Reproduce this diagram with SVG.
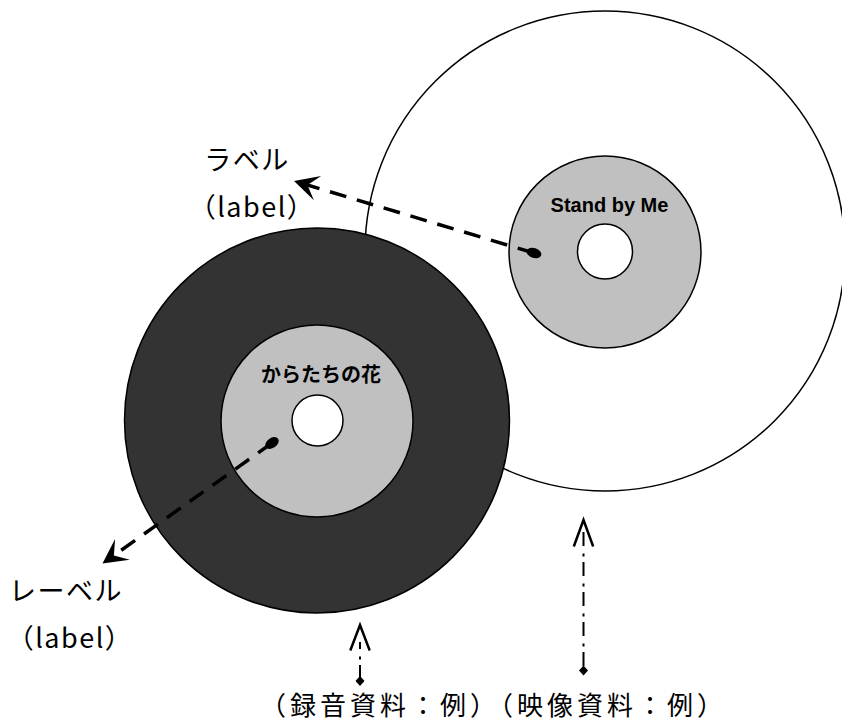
<svg xmlns="http://www.w3.org/2000/svg" width="842" height="722" viewBox="0 0 842 722">
<style>
.disc{stroke:#000;stroke-width:1.5}
.white{fill:#fff}
.black{fill:#333333}
.lbl{fill:#c0c0c0}
.jp{font-family:"Noto Sans CJK JP","Noto Sans",sans-serif;fill:#000}
.cap{font-size:27px;letter-spacing:1.5px}
.cjkbold{font-family:"Noto Sans CJK JP",sans-serif;font-weight:bold;font-size:20px;fill:#000}
.enbold{font-family:"Liberation Sans",Arial,sans-serif;font-weight:bold;font-size:20px;fill:#000}
.dash{fill:none;stroke:#000;stroke-width:3.5;stroke-dasharray:17 11}
.dd{fill:none;stroke:#000;stroke-width:2;stroke-dasharray:14 5.5 3 7.5}
.vhead{fill:none;stroke:#000;stroke-width:2.5;stroke-linejoin:miter;stroke-linecap:butt}
</style>
<defs>
<marker id="stealth" markerUnits="userSpaceOnUse" viewBox="-20 -15 30 30" markerWidth="30" markerHeight="30" refX="0" refY="0" orient="auto" overflow="visible">
<path d="M8,0 L-16.5,-12.7 L-6,0 L-16.5,12.7 Z" fill="#000"/>
</marker>
<marker id="blob" markerUnits="userSpaceOnUse" viewBox="-10 -10 20 20" markerWidth="20" markerHeight="20" refX="0" refY="0" orient="auto" overflow="visible">
<ellipse cx="0" cy="0" rx="7.5" ry="5" fill="#000"/>
</marker>
<marker id="diamond" markerUnits="userSpaceOnUse" viewBox="-6 -6 12 12" markerWidth="12" markerHeight="12" refX="0" refY="0" overflow="visible">
<path d="M0,-5 L4.5,0 L0,5 L-4.5,0 Z" fill="#000"/>
</marker>
</defs>

<g id="video-disc">
<circle class="disc white" cx="605" cy="251" r="240"/>
<circle class="disc lbl" cx="605" cy="252" r="96"/>
<circle class="disc white" cx="605" cy="251.5" r="27.5"/>
<text class="enbold" x="609.5" y="212" text-anchor="middle">Stand by Me</text>
</g>

<g id="record">
<circle class="disc black" cx="317" cy="420.5" r="192.5"/>
<circle class="disc lbl" cx="317" cy="421" r="96"/>
<circle class="disc white" cx="317.5" cy="420.5" r="25.5"/>
<text class="cjkbold" x="321" y="382" text-anchor="middle">からたちの花</text>
</g>

<g id="label-video">
<text class="jp cap" x="247" y="170" text-anchor="middle">ラベル</text>
<text class="jp cap" x="252" y="217" text-anchor="middle">（label）</text>
</g>

<g id="label-record">
<text class="jp cap" x="66" y="601" text-anchor="middle">レーベル</text>
<text class="jp cap" x="70" y="648" text-anchor="middle">（label）</text>
</g>

<g id="caption">
<text class="jp" x="260" y="715" font-size="26" letter-spacing="4">（録音資料：例）（映像資料：例）</text>
</g>

<g id="connectors">
<path class="dash" d="M534,253 L301.7,183.3" marker-start="url(#blob)" marker-end="url(#stealth)"/>
<path class="dash" d="M272,443 L109,558.9" marker-start="url(#blob)" marker-end="url(#stealth)"/>
<path class="dd" d="M360,681 V642" stroke-dashoffset="-2" marker-start="url(#diamond)"/>
<path class="vhead" d="M350.3,650.5 L360,625 L369.7,650.5"/>
<path class="dd" d="M583.5,670.5 V530" stroke-dashoffset="-4.5" marker-start="url(#diamond)"/>
<path class="vhead" d="M573.8,546.5 L583.5,520 L593.2,546.5"/>
</g>
</svg>
